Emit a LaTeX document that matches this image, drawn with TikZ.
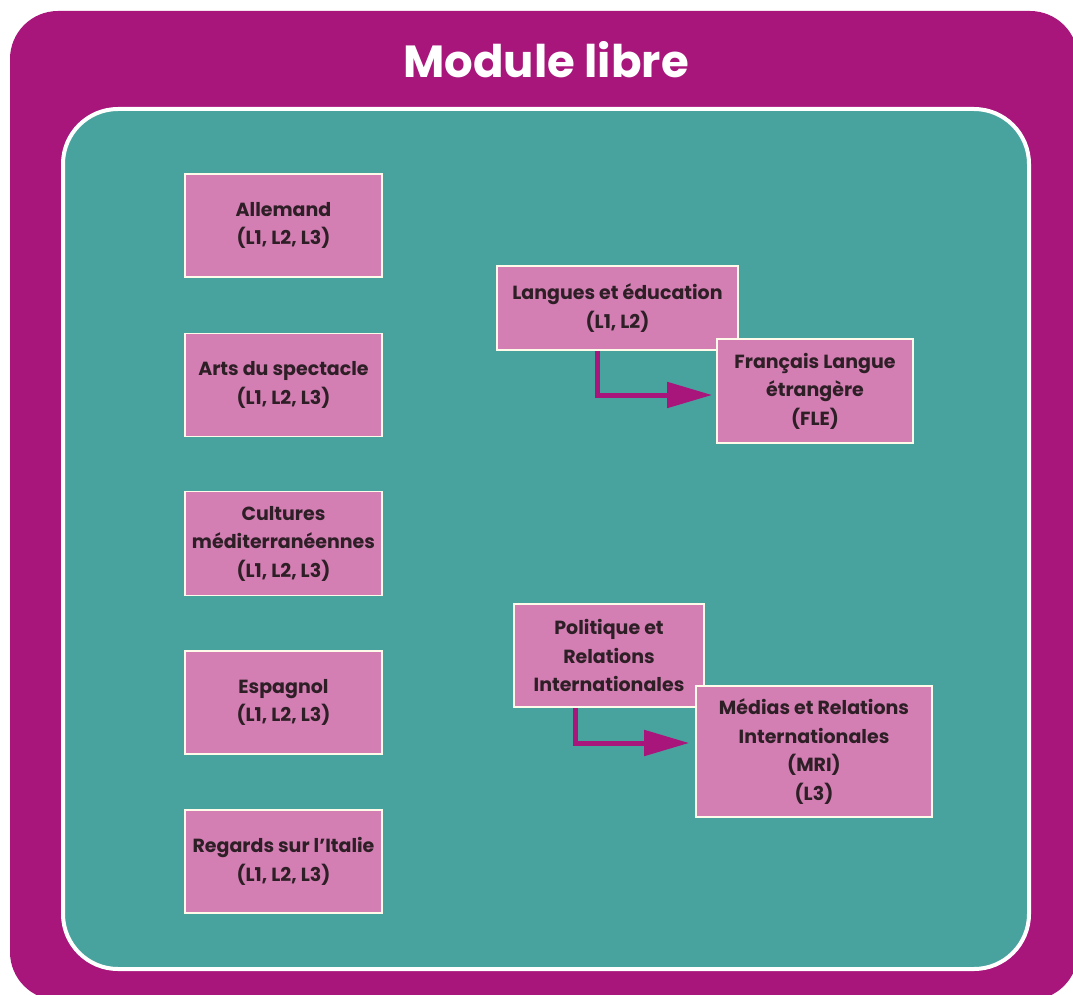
\documentclass[tikz,border=0pt]{standalone}
\usepackage{fontspec}
\setmainfont{Poppins}
\usetikzlibrary{arrows.meta}
\definecolor{outermag}{HTML}{A8157B}
\definecolor{teal2}{HTML}{48A39F}
\definecolor{boxpink}{HTML}{D37FB3}
\definecolor{txtdark}{HTML}{2E1F27}
\definecolor{boxedge}{HTML}{FFFBEA}
\tikzset{
  mbox/.style={draw=boxedge, line width=1.6pt, fill=boxpink, text=txtdark,
    font=\fontsize{19}{28.5}\selectfont\bfseries, align=center, inner sep=0pt},
  conn/.style={draw=outermag, line width=5pt, -{Triangle[length=45pt,width=25pt]}}
}
\begin{document}
\begin{tikzpicture}[x=1pt,y=-1pt]
\useasboundingbox (0,0) rectangle (1073,995);
\clip (0,0) rectangle (1073,995);
\fill[outermag, rounded corners=48pt] (10,11) rectangle (1078,1000);
\draw[white, line width=4pt, fill=teal2, rounded corners=55pt] (63,109) rectangle (1029,969);
\node[text=white, font=\fontsize{45}{50}\selectfont\bfseries] (title) at (546,60) {Module libre};

\node[mbox, minimum width=197pt, minimum height=103pt] (all) at (283.5,225.5) {Allemand\\(L1, L2, L3)};
\node[mbox, minimum width=197pt, minimum height=103pt] (arts) at (283.5,385) {Arts du spectacle\\(L1, L2, L3)};
\node[mbox, minimum width=197pt, minimum height=104pt] (cult) at (283.5,543.5) {Cultures\\méditerranéennes\\(L1, L2, L3)};
\node[mbox, minimum width=197pt, minimum height=103pt] (esp) at (283.5,702.5) {Espagnol\\(L1, L2, L3)};
\node[mbox, minimum width=197pt, minimum height=103pt] (ital) at (283.5,861.5) {Regards sur l’Italie\\(L1, L2, L3)};

\node[mbox, minimum width=241pt, minimum height=84pt] (lang) at (617.5,308) {Langues et éducation\\(L1, L2)};
\node[mbox, minimum width=196pt, minimum height=104pt] (fle) at (815,391) {Français Langue\\étrangère\\(FLE)};
\node[mbox, minimum width=190pt, minimum height=103pt] (pol) at (609,655.5) {Politique et\\Relations\\Internationales};
\node[mbox, minimum width=236pt, minimum height=131pt] (mri) at (814,751.5) {Médias et Relations\\Internationales\\(MRI)\\(L3)};

\draw[conn, shorten >=4pt] ([xshift=-20.5pt]lang.south) |- ([yshift=-4pt]fle.west);
\draw[conn, shorten >=6pt] ([xshift=-34pt]pol.south) |- ([yshift=8.5pt]mri.west);
\end{tikzpicture}
\end{document}
